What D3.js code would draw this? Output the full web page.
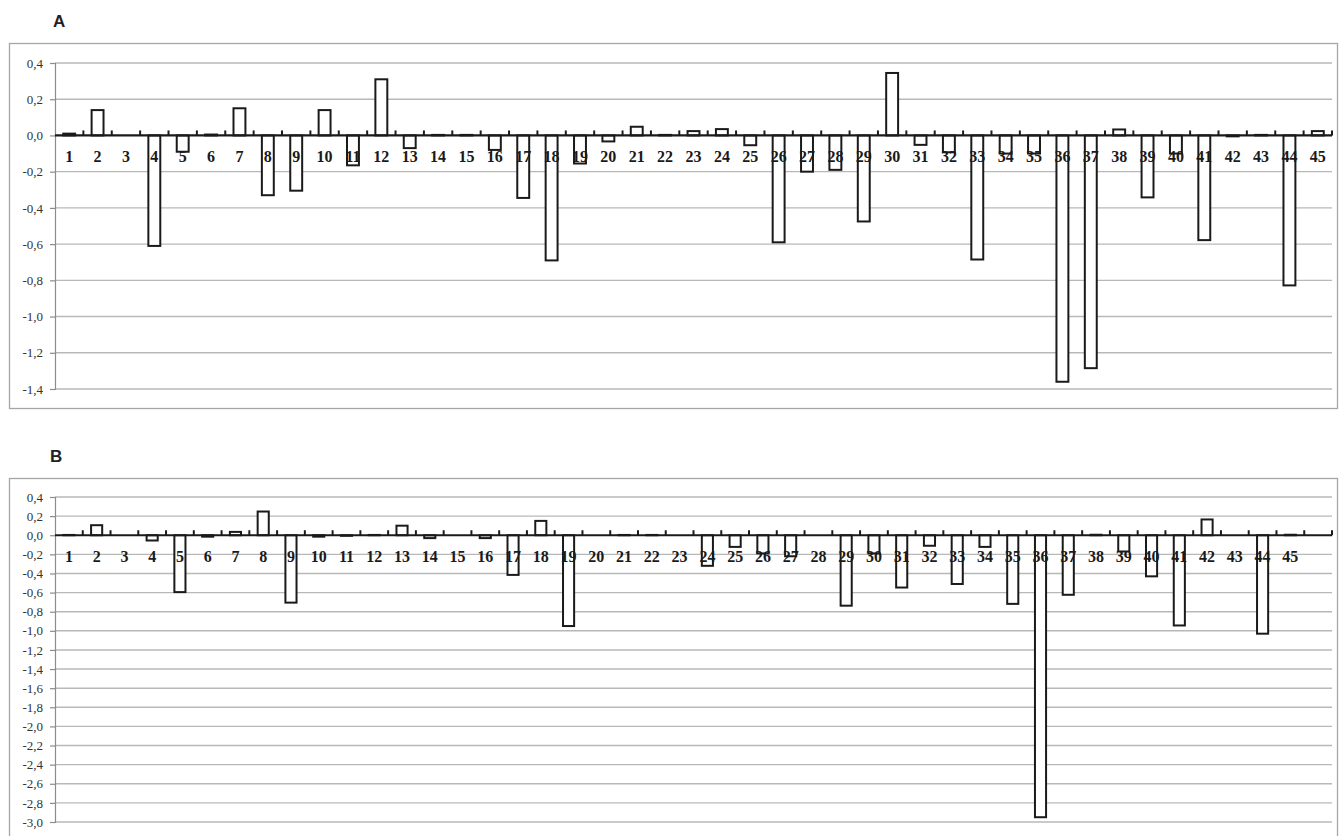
<!DOCTYPE html>
<html>
<head>
<meta charset="utf-8">
<script src="https://cdn.jsdelivr.net/npm/d3@7"></script>
<style>
  html, body { margin: 0; padding: 0; background: #fff; }
  svg { display: block; }
  .serif { font-family: "Liberation Serif", "Times New Roman", "DejaVu Serif", serif; }
  .sans { font-family: "Liberation Sans", Arial, "DejaVu Sans", sans-serif; }
</style>
</head>
<body>
<svg id="chart" width="1339" height="836"></svg>
<script>
// ---- Data ----
const categoriesA = d3.range(1, 46).map(String);
const valuesA = [
  0.01, 0.14, 0.0, -0.61, -0.09, 0.005, 0.15, -0.33, -0.305, 0.14,
  -0.165, 0.31, -0.07, 0.003, 0.003, -0.08, -0.345, -0.69, -0.155, -0.033,
  0.048, 0.003, 0.024, 0.035, -0.054, -0.59, -0.2, -0.19, -0.475, 0.345,
  -0.052, -0.093, -0.685, -0.1, -0.1, -1.36, -1.285, 0.033, -0.342, -0.1,
  -0.578, -0.005, 0.003, -0.828, 0.024
];
const categoriesB = d3.range(1, 47).map(String); // 46th band is empty
const labelsB = d3.range(1, 46).map(String);
const valuesB = [
  0.003, 0.105, 0.0, -0.055, -0.595, -0.015, 0.035, 0.248, -0.705, -0.015,
  -0.006, 0.003, 0.1, -0.03, 0.0, -0.03, -0.415, 0.15, -0.95, 0.0,
  0.003, 0.003, 0.0, -0.32, -0.122, -0.19, -0.22, 0.0, -0.737, -0.19,
  -0.547, -0.11, -0.51, -0.122, -0.718, -2.95, -0.623, 0.005, -0.17, -0.43,
  -0.944, 0.165, 0.0, -1.03, 0.005
];
const ticksA = d3.range(-7, 3).map(i => +(i * 0.2).toFixed(1)); // -1.4..0.4
const ticksB = d3.range(-15, 3).map(i => +(i * 0.2).toFixed(1)); // -3.0..0.4
const fmt = v => v.toFixed(1).replace(".", ",").replace("-0,0", "0,0");

const svg = d3.select("#chart");

function panel(cfg) {
  const g = svg.append("g");
  g.append("rect")
    .attr("x", 9.5).attr("y", cfg.boxTop + 0.5)
    .attr("width", 1328).attr("height", cfg.boxH)
    .attr("fill", "none").attr("stroke", "#a6a6a6").attr("stroke-width", 1.3);
  g.append("text")
    .attr("class", "sans")
    .attr("x", cfg.letterX).attr("y", cfg.letterY)
    .style("font-weight", "bold").style("font-size", "17px")
    .attr("fill", "#222").text(cfg.letter);

  const x = d3.scaleBand().domain(cfg.cats).range([55, 1332]).padding(0);
  const y = d3.scaleLinear().domain([cfg.ticks[0], cfg.ticks[cfg.ticks.length - 1]])
    .range([cfg.yBottom, cfg.yTop]);

  g.append("g").selectAll("line").data(cfg.ticks.filter(t => t !== 0)).join("line")
    .attr("x1", 55).attr("x2", 1332)
    .attr("y1", d => y(d)).attr("y2", d => y(d))
    .attr("stroke", "#b8b8b8").attr("stroke-width", 1.4);

  const ya = g.append("g").attr("transform", "translate(55,0)")
    .call(d3.axisLeft(y).tickValues(cfg.ticks).tickFormat(fmt).tickSize(5).tickPadding(7));
  ya.attr("font-family", null).attr("font-size", null);
  ya.select(".domain").attr("stroke", "#8c8c8c").attr("stroke-width", 1.2);
  ya.selectAll(".tick line").attr("stroke", "#8c8c8c").attr("stroke-width", 1.2);
  ya.selectAll(".tick text")
    .attr("class", "serif")
    .style("font-size", "13px").attr("fill", "#333");

  const bw = x.bandwidth() * cfg.barFrac;
  g.append("g").selectAll("rect").data(cfg.values).join("rect")
    .attr("x", (d, i) => x(cfg.cats[i]) + (x.bandwidth() - bw) / 2)
    .attr("y", d => y(Math.max(0, d)))
    .attr("width", bw)
    .attr("height", d => Math.abs(y(d) - y(0)))
    .attr("fill", "#fff").attr("stroke", "#1a1a1a").attr("stroke-width", 2);

  const y0 = y(0);
  g.append("line").attr("x1", 55).attr("x2", 1332).attr("y1", y0).attr("y2", y0)
    .attr("stroke", "#1a1a1a").attr("stroke-width", 2.2);
  const edges = cfg.cats.map(c => x(c)).concat([x.range()[1]]).slice(1);
  g.append("g").selectAll("line").data(edges).join("line")
    .attr("x1", d => d).attr("x2", d => d)
    .attr("y1", y0 - 5).attr("y2", y0)
    .attr("stroke", "#1a1a1a").attr("stroke-width", 2);

  g.append("g").selectAll("text").data(cfg.labels).join("text")
    .attr("class", "serif")
    .attr("x", d => x(d) + x.bandwidth() / 2)
    .attr("y", y0 + 26.5)
    .attr("text-anchor", "middle")
    .style("font-weight", "bold").style("font-size", "16px")
    .attr("fill", "#1a1a1a").text(d => d);
}

panel({
  letter: "A", letterX: 53, letterY: 27,
  boxTop: 43, boxH: 365,
  cats: categoriesA, labels: categoriesA, values: valuesA,
  ticks: ticksA, yTop: 63, yBottom: 389, barFrac: 0.42
});

panel({
  letter: "B", letterX: 50, letterY: 462,
  boxTop: 478, boxH: 400,
  cats: categoriesB, labels: labelsB, values: valuesB,
  ticks: ticksB, yTop: 497, yBottom: 822, barFrac: 0.4
});
</script>
</body>
</html>
